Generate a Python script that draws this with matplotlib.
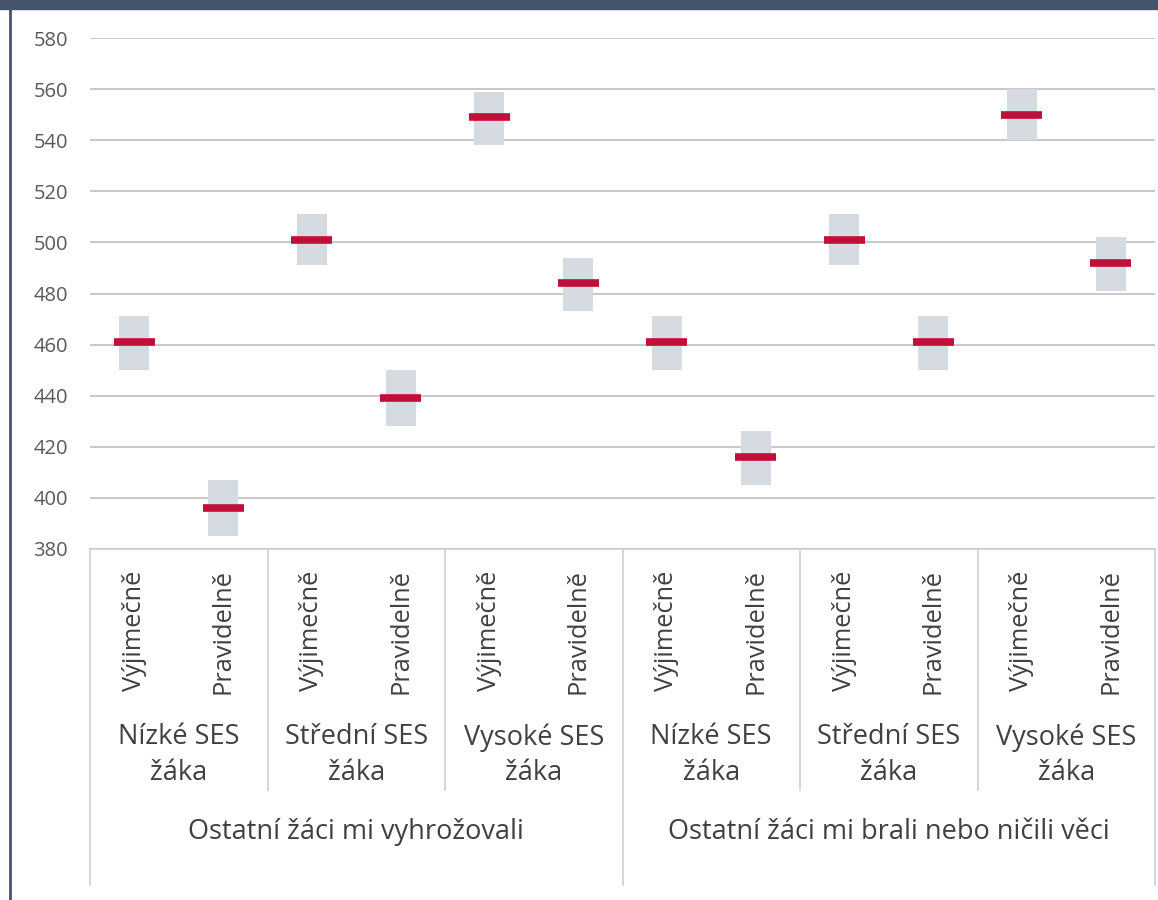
import matplotlib.pyplot as plt
import numpy as np
from matplotlib.patches import Rectangle
from matplotlib.lines import Line2D

# data
frequency = ['Výjimečně', 'Pravidelně'] * 6
ses_groups = ['Nízké SES\nžáka', 'Střední SES\nžáka', 'Vysoké SES\nžáka'] * 2
bullying = ['Ostatní žáci mi vyhrožovali', 'Ostatní žáci mi brali nebo ničili věci']
means = [461, 396, 501, 439, 549, 484, 461, 416, 501, 461, 550, 492]
lower = [450, 385, 491, 428, 538, 473, 450, 405, 491, 450, 540, 481]
upper = [471, 407, 511, 450, 559, 494, 471, 426, 511, 471, 560, 502]
y_ticks = [380, 400, 420, 440, 460, 480, 500, 520, 540, 560, 580]

W, H = 1158, 900
fig = plt.figure(figsize=(W / 100, H / 100), dpi=100)
fig.patch.set_facecolor('white')

# axes placed in pixel terms
ax_l, ax_r, ax_t, ax_b = 90, 1155, 38, 549
ax = fig.add_axes([ax_l / W, 1 - ax_b / H, (ax_r - ax_l) / W, (ax_b - ax_t) / H])

x = np.arange(len(means))
ax.bar(x, np.array(upper) - np.array(lower), bottom=lower, width=0.34,
       color='#d6dbe2', zorder=2)
ax.hlines(means, x - 0.23, x + 0.23, colors='#c0103a', linewidth=5.5, zorder=3)

ax.set_xlim(-0.5, len(means) - 0.5)
ax.set_ylim(380, 580)
ax.set_yticks(y_ticks)
ax.tick_params(axis='y', length=0, pad=16, labelsize=14.5, labelcolor='#595959')
ax.set_xticks([])
for lab in ax.get_yticklabels():
    lab.set_family('Open Sans')
ax.grid(axis='y', color='#bfbfbf', linewidth=1.2, zorder=0)
ax.set_axisbelow(True)
for side in ['top', 'right', 'left']:
    ax.spines[side].set_visible(False)
ax.spines['bottom'].set_color('#c9d0d8')
ax.spines['bottom'].set_linewidth(1.2)


def fy(px):
    # pixel row -> axes fraction
    return (ax_b - px) / (ax_b - ax_t)


trans = ax.get_xaxis_transform()
txt = dict(family='Open Sans', color='#404040', transform=trans, clip_on=False)

for i, lab in enumerate(frequency):
    ax.text(i, fy(631), lab, rotation=90, ha='center', va='center', fontsize=18.3, **txt)

for g, lab in enumerate(ses_groups):
    ax.text(2 * g + 0.5, fy(755), lab, ha='center', va='center', fontsize=19.5,
            linespacing=1.35, **txt)

for g, lab in enumerate(bullying):
    ax.text(6 * g + 2.5, fy(832), lab, ha='center', va='center', fontsize=19.5, **txt)

# separators in the category area
for b in [2, 4, 8, 10]:
    ax.plot([b - 0.5, b - 0.5], [fy(549), fy(790)], color='#c9d0d8', lw=1.2,
            transform=trans, clip_on=False)
for b in [0, 6, 12]:
    ax.plot([b - 0.5, b - 0.5], [fy(549), fy(885)], color='#c9d0d8', lw=1.2,
            transform=trans, clip_on=False)

# frame: dark top band and left edge
fig.patches.append(Rectangle((0, 1 - 9 / H), 1, 9 / H, transform=fig.transFigure,
                             color='#44546a', zorder=0))
fig.lines.append(Line2D([10 / W, 10 / W], [0, 1], transform=fig.transFigure,
                        color='#44546a', lw=2))

fig.savefig('out.png', dpi=100)
